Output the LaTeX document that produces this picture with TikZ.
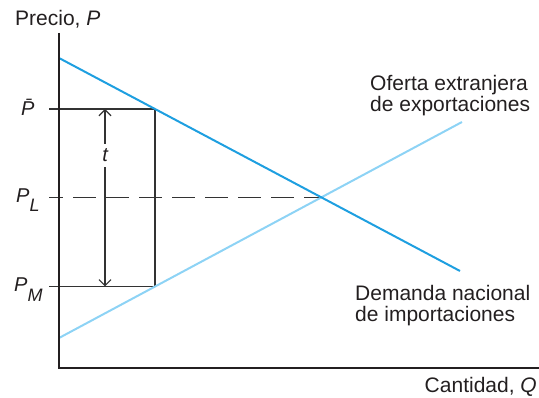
\documentclass[tikz,border=0pt]{standalone}
\usepackage{fontspec}
\setmainfont{Liberation Sans}
\usetikzlibrary{arrows.meta}
\definecolor{demblue}{HTML}{1E9FE0}
\definecolor{supblue}{HTML}{8DD3F5}
\definecolor{ink}{HTML}{231F20}
\definecolor{guide}{HTML}{333333}
\begin{document}
\begin{tikzpicture}[x=1pt,y=-1pt,
  lbl/.style={inner sep=0pt, text=ink, font=\fontsize{21}{21}\selectfont},
  plbl/.style={inner sep=0pt, text=ink, font=\fontsize{20}{20}\selectfont},
  axis/.style={draw=ink, line width=2.2pt},
  guideline/.style={draw=guide, line width=1.2pt},
  dashline/.style={draw=guide, line width=1.2pt, dash pattern=on 23pt off 10pt, dash phase=9pt},
  demand/.style={draw=demblue, line width=2pt},
  supply/.style={draw=supblue, line width=2pt},
  tarrow/.style={draw=guide, line width=1.2pt, {Straight Barb[length=6pt,width=12pt]}-{Straight Barb[length=6pt,width=12pt]}}
]
\useasboundingbox (0,0) rectangle (539,398);
% coordinates
\coordinate (Ytop) at (59,33);
\coordinate (O) at (59,368);
\coordinate (Xend) at (539,368);
\coordinate (D1) at (59,58);
\coordinate (D2) at (460,271);
\coordinate (S1) at (59,338);
\coordinate (S2) at (462,122);
\coordinate (E) at (321,197.3);
\coordinate (A) at (155,109);
\coordinate (B) at (155,286.5);
\coordinate (Pbar) at (49,109);
\coordinate (PL) at (49,197.3);
\coordinate (PM) at (49,286.5);
\coordinate (AT) at (105,109);
\coordinate (AB) at (105,286.5);
% guides
\draw[guideline] (Pbar) -- (A);
\draw[guideline] (PM) -- (B);
\draw[guideline] (A) -- (B);
\draw[dashline] (PL) -- (E);
\draw[tarrow] (AT) -- (AB);
\node[plbl, fill=white, inner xsep=2pt, inner ysep=5pt] (t) at (105.5,155.5) {\textit{t}};
% curves
\draw[supply] (S1) -- (S2);
\draw[demand] (D1) -- (D2);
% axes
\draw[axis] (Ytop) -- (O) -- (Xend);
% labels
\node[lbl, anchor=base west] (ylab) at (15,25.5) {Precio, \textit{P}};
\node[lbl, anchor=base east] (xlab) at (537,393) {Cantidad, \textit{Q}};
\node[lbl, anchor=north west, align=left] (slab) at (370,75) {Oferta extranjera\\de exportaciones};
\node[lbl, anchor=north west, align=left] (dlab) at (355,285) {Demanda nacional\\de importaciones};
\node[plbl, anchor=base west] (pbarlab) at (21,116) {\textit{\=P}};
\node[plbl, anchor=base west] (pllab) at (16,203) {\textit{P}\raisebox{-9pt}{\fontsize{18}{18}\selectfont\textit{L}}};
\node[plbl, anchor=base west] (pmlab) at (14,292) {\textit{P}\raisebox{-10pt}{\fontsize{18}{18}\selectfont\textit{M}}};
\end{tikzpicture}
\end{document}
